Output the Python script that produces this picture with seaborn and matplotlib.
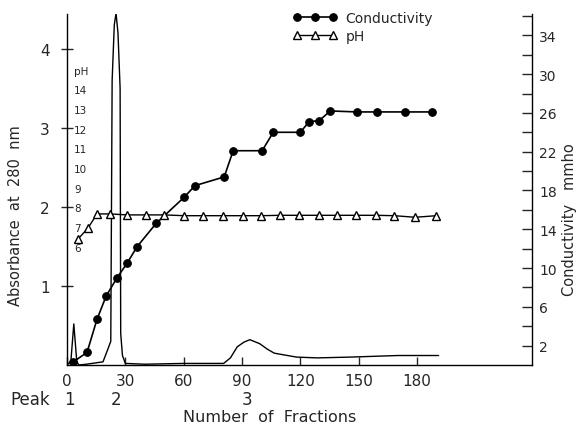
import numpy as np
import pandas as pd
import matplotlib
matplotlib.use("Agg")
import matplotlib.pyplot as plt
import matplotlib.transforms as mtransforms
import seaborn as sns

# ---- data ----
abs_frac = [0, 2, 3.5, 5, 6, 10, 18.5, 21, 22.5, 23.2, 24.3, 25.2, 26.2, 27.3, 27.6, 28.5, 30,
            40, 60, 80.5, 84, 87.5, 91, 94, 99, 103, 106.5, 111, 118, 128.6, 145.6, 170, 191]
abs_val = [0.0, 0.05, 0.52, 0.05, 0.0, 0.01, 0.04, 0.2, 0.3, 3.6, 4.3, 4.45, 4.2, 3.5, 0.4, 0.12, 0.02,
           0.01, 0.02, 0.02, 0.09, 0.23, 0.29, 0.32, 0.27, 0.2, 0.15, 0.13, 0.10, 0.09, 0.10, 0.12, 0.12]

cond_frac = [3.1, 10.3, 15.4, 20.1, 25.7, 30.9, 36.0, 45.8, 60.2, 65.8, 80.8, 85.4, 100.3, 106.0,
             119.9, 124.5, 129.6, 135.3, 149.2, 159.5, 173.9, 187.8]
cond_val = [0.3, 1.3, 4.7, 7.1, 9.0, 10.5, 12.2, 14.6, 17.3, 18.5, 19.4, 22.1, 22.1, 24.0,
            24.0, 25.1, 25.2, 26.2, 26.1, 26.1, 26.1, 26.1]

ph_frac = [5.7, 10.8, 15.4, 22.1, 30.9, 40.7, 49.9, 60.2, 70.0, 80.2, 90.5, 99.8, 109.6, 119.3,
           129.6, 138.9, 148.7, 159.0, 168.2, 179.0, 189.8]
ph_val = [6.4, 6.95, 7.67, 7.67, 7.62, 7.62, 7.62, 7.58, 7.58, 7.58, 7.58, 7.58, 7.6, 7.6,
          7.6, 7.6, 7.6, 7.6, 7.58, 7.5, 7.58]

x_ticks = [0, 30, 60, 90, 120, 150, 180]
abs_ticks = [1, 2, 3, 4]
cond_ticks = [2, 6, 10, 14, 18, 22, 26, 30, 34]
ph_ticks = [6, 7, 8, 9, 10, 11, 12, 13, 14, 15]
ph_labels = ["6", "7", "8", "9", "10", "11", "12", "13", "14", "pH"]
peak_pos = [1.5, 25, 92.6]
peak_names = ["1", "2", "3"]

sns.set_style("ticks")
plt.rcParams['font.family'] = ['DejaVu Sans']

fig = plt.figure(figsize=(5.81, 4.27), dpi=100)
ax = fig.add_axes([67/581, 1-366/427, (532-67)/581, (366-15)/427])
axc = ax.twinx()
axp = ax.twinx()

df_abs = pd.DataFrame({"f": abs_frac, "a": abs_val})
df_c = pd.DataFrame({"f": cond_frac, "c": cond_val})
df_p = pd.DataFrame({"f": ph_frac, "p": ph_val})

sns.lineplot(data=df_abs, x="f", y="a", ax=ax, color="black", lw=1.0, sort=False)
sns.lineplot(data=df_c, x="f", y="c", ax=axc, color="black", lw=1.2, marker="o",
             markersize=5.5, markeredgecolor="black", markerfacecolor="black", label="Conductivity", legend=False)
sns.lineplot(data=df_p, x="f", y="p", ax=axp, color="black", lw=1.0, marker="^",
             markersize=6, markeredgecolor="black", markerfacecolor="white", markeredgewidth=1.0,
             label="pH", legend=False)

ax.set_xlim(0, 239)
ax.set_ylim(0, 4.44)
axc.set_ylim(0, 36.2)
axp.set_ylim(0, 17.82)

for a in (ax, axc, axp):
    a.spines['top'].set_visible(False)
    for s in a.spines.values():
        s.set_linewidth(1.0)
        s.set_color("black")

axp.spines['right'].set_visible(False)
axp.spines['left'].set_visible(False)
axp.spines['bottom'].set_visible(False)
axc.spines['left'].set_visible(False)
axc.spines['bottom'].set_visible(False)
ax.spines['right'].set_visible(False)

ax.set_xticks(x_ticks)
ax.set_xticklabels([str(v) for v in x_ticks])
ax.tick_params(axis='x', direction='in', length=6, pad=6, labelsize=11, width=1)
ax.set_yticks(abs_ticks)
ax.set_yticklabels([str(v) for v in abs_ticks])
ax.tick_params(axis='y', direction='inout', length=9, pad=8, labelsize=11, width=1)

axc.set_yticks(cond_ticks)
axc.set_yticklabels([str(v) for v in cond_ticks])
axc.set_yticks(np.arange(4, 37, 4), minor=True)
axc.tick_params(axis='y', which='major', direction='in', length=7, pad=5, labelsize=10, width=1)
axc.tick_params(axis='y', which='minor', direction='in', length=7, width=1)

axp.yaxis.set_ticks_position('left')
axp.set_yticks(ph_ticks)
axp.set_yticklabels(ph_labels)
axp.tick_params(axis='y', direction='in', length=0, pad=-5, labelsize=7.5)
for t in axp.get_yticklabels():
    t.set_horizontalalignment('left')
axp.set_ylabel("")
axp.set_xlabel("")

ax.set_xlabel("Number  of  Fractions", fontsize=11.5)
ax.xaxis.set_label_coords((270-67)/465, (366-410)/351)
ax.set_ylabel("Absorbance  at  280  nm", fontsize=10.5)
ax.yaxis.set_label_coords((23-67)/465, (366-216)/351)
axc.set_ylabel("Conductivity   mmho", fontsize=10.5)
axc.yaxis.set_label_coords((562-67)/465, (366-220)/351)

trans = mtransforms.blended_transform_factory(ax.transData, ax.transAxes)
ax.text(-19, -0.097, "Peak", transform=trans, ha="center", va="center", fontsize=12, clip_on=False)
for p, n in zip(peak_pos, peak_names):
    ax.text(p, -0.097, n, transform=trans, ha="center", va="center", fontsize=12, clip_on=False)

h1, l1 = axc.get_legend_handles_labels()
h2, l2 = axp.get_legend_handles_labels()
fig.legend(h1 + h2, l1 + l2, loc="upper left", bbox_to_anchor=(283/581, 1-2/427), frameon=False,
           numpoints=3, handlelength=3.2, fontsize=10, handletextpad=0.6, labelspacing=0.3,
           borderpad=0.2)

fig.savefig("out.png", dpi=100, facecolor="white")
